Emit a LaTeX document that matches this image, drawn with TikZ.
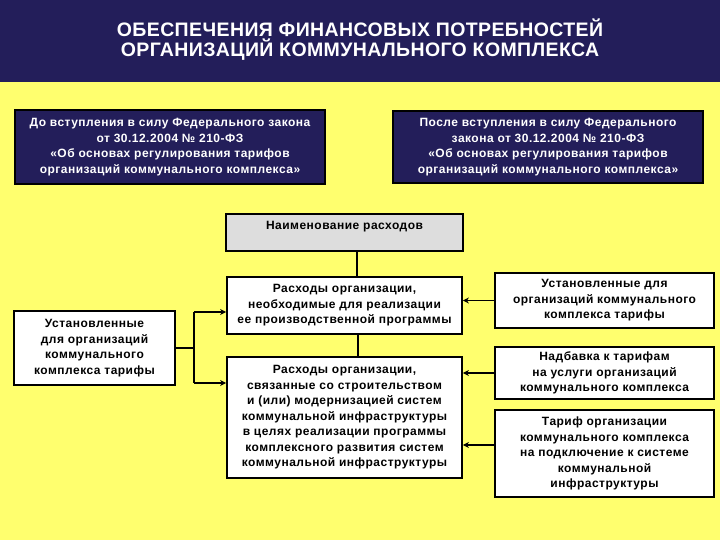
\documentclass[tikz,border=0pt]{standalone}
\usepackage{fontspec}
\setmainfont{Liberation Sans}[LetterSpace=4]
\newfontfamily\titlefont[LetterSpace=2]{Liberation Sans}
\usetikzlibrary{arrows.meta}
\definecolor{navy}{RGB}{35,30,90}
\definecolor{bgyellow}{RGB}{255,255,110}
\definecolor{boxgray}{RGB}{221,221,221}
\tikzset{
  box/.style={draw=black, line width=1.8pt, fill=white, align=center, inner sep=0pt,
    font=\bfseries\fontsize{12}{15.5}\selectfont},
  navybox/.style={box, fill=navy, text=white},
  conn/.style={line width=1.8pt, black},
  arr/.style={conn, -{Stealth[length=6pt,width=6pt]}},
}
\begin{document}
\begin{tikzpicture}[x=1pt,y=-1pt]
\useasboundingbox (0,0) rectangle (720,540);
\fill[bgyellow] (0,0) rectangle (720,540);
\fill[navy] (0,0) rectangle (720,82);
\node[text=white, align=center, font=\titlefont\bfseries\fontsize{19.5}{20}\selectfont] (title) at (360,40)
  {ОБЕСПЕЧЕНИЯ ФИНАНСОВЫХ ПОТРЕБНОСТЕЙ\\ОРГАНИЗАЦИЙ КОММУНАЛЬНОГО КОМПЛЕКСА};

\node[navybox, minimum width=310pt, minimum height=74pt] (ltop) at (170,147)
  {До вступления в силу Федерального закона\\от 30.12.2004 № 210-ФЗ\\«Об основах регулирования тарифов\\организаций коммунального комплекса»};
\node[navybox, minimum width=310pt, minimum height=72pt] (rtop) at (548,147)
  {После вступления в силу Федерального\\закона от 30.12.2004 № 210-ФЗ\\«Об основах регулирования тарифов\\организаций коммунального комплекса»};

\node[box, fill=boxgray, anchor=north, minimum width=237pt, text height=16pt, text depth=21pt] (naim) at (344.5,213)
  {Наименование расходов};

\node[box, minimum width=235pt, minimum height=57pt] (mid1) at (344.5,305.5)
  {Расходы организации,\\необходимые для реализации\\ее производственной программы};
\node[box, minimum width=235pt, minimum height=121pt] (mid2) at (344.5,417.5)
  {Расходы организации,\\связанные со строительством\\и (или) модернизацией систем\\коммунальной инфраструктуры\\в целях реализации программы\\комплексного развития систем\\коммунальной инфраструктуры};

\node[box, minimum width=161pt, minimum height=74pt] (left) at (94.5,348)
  {Установленные\\для организаций\\коммунального\\комплекса тарифы};

\node[box, minimum width=219pt, minimum height=55pt] (r1) at (604.5,300.5)
  {Установленные для\\организаций коммунального\\комплекса тарифы};
\node[box, minimum width=219pt, minimum height=52pt] (r2) at (604.5,373)
  {Надбавка к тарифам\\на услуги организаций\\коммунального комплекса};
\node[box, minimum width=219pt, minimum height=87pt] (r3) at (604.5,453.5)
  {Тариф организации\\коммунального комплекса\\на подключение к системе\\коммунальной\\инфраструктуры};

\draw[conn] ([xshift=12.5pt]naim.south) -- ([xshift=12.5pt]naim.south |- mid1.north);
\draw[conn] ([xshift=13.5pt]mid1.south) -- ([xshift=13.5pt]mid1.south |- mid2.north);

\coordinate (jt) at (194,312);
\coordinate (jb) at (194,383);
\draw[conn] (left.east) -- (left.east -| jt);
\draw[conn] (jt) -- (jb);
\draw[arr] (jt) -- (jt -| mid1.west);
\draw[arr] (jb) -- (jb -| mid2.west);

\draw[arr] (r1.west) -- (r1.west -| mid1.east);
\draw[arr] (r2.west) -- (r2.west -| mid2.east);
\draw[arr] ([yshift=8.5pt]r3.west) -- ([yshift=8.5pt]r3.west -| mid2.east);
\end{tikzpicture}
\end{document}
